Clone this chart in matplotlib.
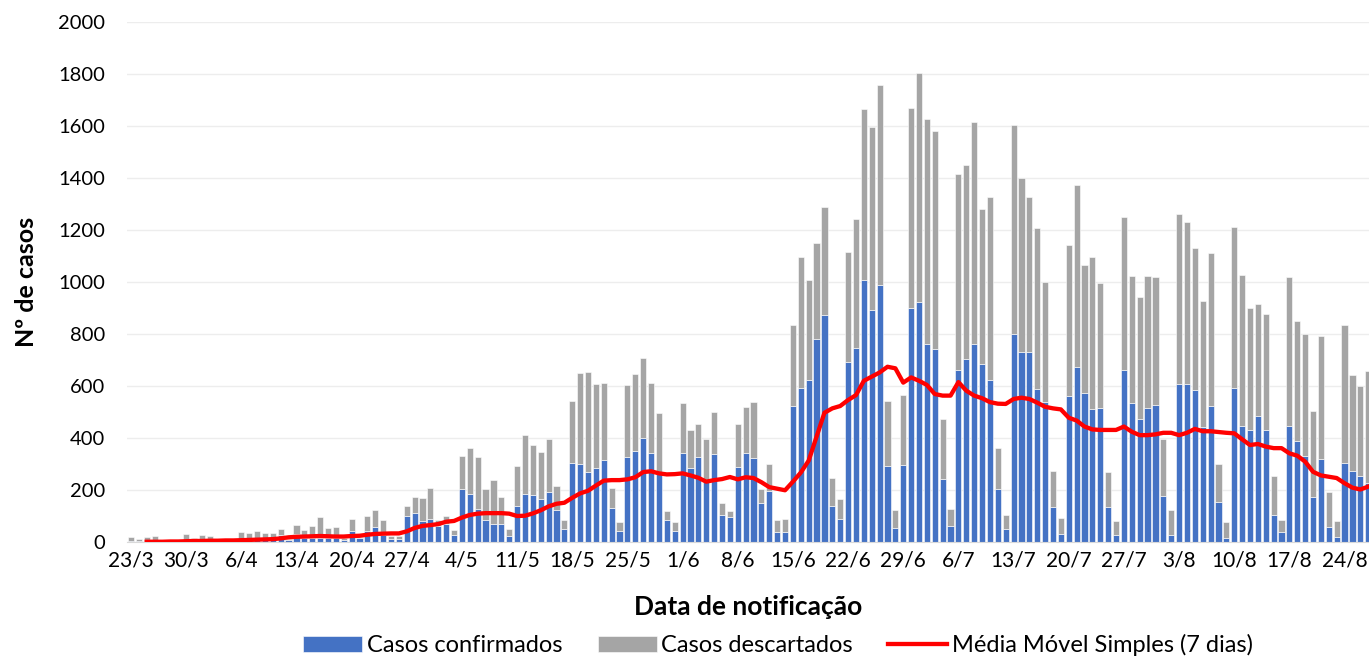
import numpy as np
import matplotlib
matplotlib.use("Agg")
import matplotlib.pyplot as plt

plt.rcParams['font.family'] = ['Lato', 'DejaVu Sans']

# casos confirmados por dia, a partir de 23/3
confirmados = [4, 2, 2, 3, 2, 1, 1, 3, 2, 3, 3, 2, 1, 2, 5, 6, 8, 8, 10, 27,
               8, 29, 15, 15, 15, 15, 15, 8, 42, 14, 41, 59, 26, 13, 10, 101, 113, 81, 90, 60,
               70, 28, 203, 186, 127, 86, 70, 70, 22, 140, 186, 182, 167, 192, 124, 49, 305, 301, 270, 286,
               315, 131, 44, 326, 350, 401, 344, 265, 85, 44, 344, 286, 328, 240, 340, 105, 96, 288, 344, 324,
               149, 197, 40, 40, 524, 594, 624, 781, 873, 140, 90, 694, 747, 1009, 891, 990, 292, 55, 297, 901,
               924, 763, 744, 244, 63, 662, 705, 763, 686, 623, 204, 50, 801, 732, 732, 590, 538, 135, 32, 563,
               674, 574, 510, 517, 135, 27, 662, 535, 473, 517, 528, 176, 27, 609, 609, 586, 442, 523, 155, 15,
               592, 445, 431, 486, 431, 105, 38, 446, 388, 330, 174, 319, 59, 18, 304, 273, 255, 227]

# casos descartados por dia
descartados = [16, 8, 18, 19, 6, 2, 7, 27, 14, 25, 19, 6, 4, 3, 32, 29, 36, 27, 23, 23,
               4, 36, 31, 45, 83, 39, 43, 7, 46, 6, 58, 64, 57, 10, 14, 39, 60, 88, 119, 23,
               30, 18, 128, 174, 199, 117, 168, 102, 27, 154, 224, 191, 179, 204, 93, 37, 237, 350, 384, 320,
               295, 75, 32, 277, 295, 305, 266, 230, 34, 32, 189, 145, 125, 156, 159, 45, 24, 167, 175, 213,
               56, 102, 43, 48, 309, 501, 384, 369, 415, 106, 75, 421, 495, 656, 705, 766, 250, 67, 270, 768,
               878, 863, 838, 230, 64, 753, 744, 854, 594, 704, 158, 53, 803, 669, 596, 618, 461, 138, 60, 578,
               700, 490, 587, 478, 134, 53, 587, 489, 471, 507, 492, 221, 95, 653, 621, 543, 485, 588, 146, 61,
               621, 581, 469, 431, 445, 149, 47, 573, 461, 470, 329, 472, 133, 63, 529, 371, 344, 431]

# média móvel simples (7 dias), começa em 25/3
media_movel = [1, 1, 1, 2, 2, 3, 4, 4, 5, 5, 6, 6, 7, 8, 9, 10, 11, 14, 18, 20,
               21, 22, 23, 22, 21, 21, 23, 24, 28, 31, 32, 33, 33, 41, 54, 62, 65, 69, 78, 81,
               94, 104, 109, 111, 111, 111, 109, 100, 101, 110, 122, 137, 147, 151, 170, 187, 197, 217, 236, 238,
               238, 241, 249, 269, 272, 264, 260, 261, 264, 256, 247, 232, 238, 242, 250, 241, 249, 246, 230, 211,
               205, 199, 232, 267, 313, 405, 497, 514, 523, 546, 565, 620, 636, 652, 674, 668, 613, 633, 620, 604,
               569, 563, 563, 615, 582, 563, 553, 538, 532, 531, 550, 555, 550, 536, 520, 514, 510, 478, 467, 444,
               433, 431, 431, 431, 444, 424, 411, 411, 414, 420, 420, 411, 420, 435, 426, 426, 423, 420, 418, 395,
               373, 377, 367, 361, 361, 341, 332, 309, 270, 256, 251, 246, 226, 209, 202, 213]
inicio_media = 2

rotulos = ["23/3", "30/3", "6/4", "13/4", "20/4", "27/4", "4/5", "11/5", "18/5", "25/5", "1/6",
           "8/6", "15/6", "22/6", "29/6", "6/7", "13/7", "20/7", "27/7", "3/8", "10/8", "17/8", "24/8"]

dias = np.arange(len(confirmados))
x_media = np.arange(inicio_media, inicio_media + len(media_movel))

fig = plt.figure(figsize=(13.69, 6.58), dpi=100)
ax = fig.add_axes([127 / 1369, 116 / 658, 1 - 127 / 1369, 520 / 658])

b1 = ax.bar(dias, confirmados, width=0.78, color='#4472C4', edgecolor='white', linewidth=0.4,
            label='Casos confirmados', zorder=2)
b2 = ax.bar(dias, descartados, bottom=confirmados, width=0.78, color='#A5A5A5', edgecolor='white',
            linewidth=0.4, label='Casos descartados', zorder=2)
l1, = ax.plot(x_media, media_movel, color='#FF0000', lw=3.1, label='Média Móvel Simples (7 dias)', zorder=3)

ax.set_xlim(-0.5, 157.1)
ax.set_ylim(0, 2000)
ax.set_yticks(np.arange(0, 2001, 200))
ax.set_xticks(np.arange(0, 7 * len(rotulos), 7))
ax.set_xticklabels(rotulos)
ax.grid(axis='y', color='#EDEDED', lw=1, zorder=0)
ax.set_axisbelow(True)
for s in ['top', 'right', 'left']:
    ax.spines[s].set_visible(False)
ax.spines['bottom'].set_color('#D9D9D9')
ax.tick_params(axis='y', length=0, pad=16, labelsize=14.5)
ax.tick_params(axis='x', length=0, pad=6, labelsize=15)

ax.set_ylabel('Nº de casos', fontsize=18, fontweight='bold', labelpad=14)
ax.set_xlabel('Data de notificação', fontsize=19, fontweight='bold', labelpad=18)

fig.legend(handles=[b1, b2, l1], loc='center', bbox_to_anchor=(778 / 1369, 1 - 645 / 658), ncol=3,
           frameon=False, fontsize=17, handlelength=2.5, handletextpad=0.2, columnspacing=1.5)

fig.savefig('out.png', dpi=100)
